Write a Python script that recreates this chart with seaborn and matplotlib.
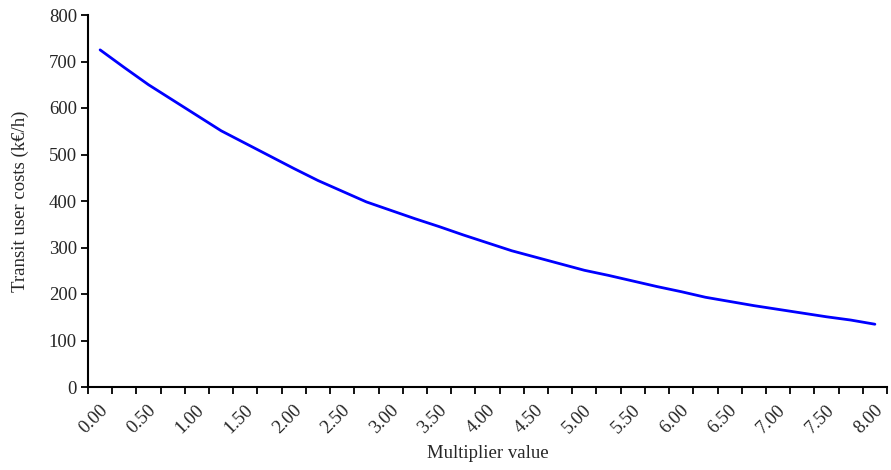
import numpy as np
import pandas as pd
import matplotlib
matplotlib.use("Agg")
import matplotlib.pyplot as plt
import matplotlib.transforms as mtransforms
import seaborn as sns
from matplotlib.ticker import FixedLocator

# multiplier values (0.25 steps) and transit user costs
multipliers = [0.00, 0.25, 0.50, 0.75, 1.00, 1.25, 1.50, 1.75, 2.00, 2.25, 2.50,
               2.75, 3.00, 3.25, 3.50, 3.75, 4.00, 4.25, 4.50, 4.75, 5.00, 5.25,
               5.50, 5.75, 6.00, 6.25, 6.50, 6.75, 7.00, 7.25, 7.50, 7.75, 8.00]
costs = [725, 687, 650, 617, 584, 551, 524, 497, 470, 444, 421,
         398, 380, 362, 345, 327, 310, 293, 279, 265, 251, 240,
         228, 216, 205, 193, 184, 175, 167, 159, 151, 144, 135]
tick_labels = ["%.2f" % v for v in multipliers[::2]]

df = pd.DataFrame({"multiplier": multipliers, "cost": costs})

sns.set_style("ticks")
plt.rcParams['font.family'] = ['Liberation Serif', 'DejaVu Serif']

fig = plt.figure(figsize=(8.91, 4.70), dpi=100)
ax = fig.add_axes([88 / 891, 83 / 470, 799 / 891, 372 / 470])

sns.lineplot(data=df, x="multiplier", y="cost", color="#0000ff", linewidth=2.0, ax=ax)

ax.set_xlim(-0.125, 8.125)
ax.set_ylim(0, 800)
ax.set_yticks(np.arange(0, 801, 100))

# labels at category centres, tick marks at category boundaries
ax.set_xticks(multipliers[::2])
ax.set_xticklabels(tick_labels, rotation=45, ha="right", va="center", rotation_mode="anchor")
ax.xaxis.set_minor_locator(FixedLocator(np.arange(-0.125, 8.2, 0.25)))
ax.tick_params(axis="x", which="major", length=0, pad=15, labelsize=13.5)
ax.tick_params(axis="x", which="minor", length=5, width=1.3, color="black")
ax.tick_params(axis="y", length=5, width=1.3, color="black", labelsize=13.5, pad=3)
shift = mtransforms.ScaledTranslation(5 / 100, 0, fig.dpi_scale_trans)
for lab in ax.get_xticklabels():
    lab.set_transform(lab.get_transform() + shift)

for s in ["top", "right"]:
    ax.spines[s].set_visible(False)
for s in ["left", "bottom"]:
    ax.spines[s].set_linewidth(1.5)
    ax.spines[s].set_color("black")

ax.set_xlabel("Multiplier value", fontsize=13.5, labelpad=6)
ax.set_ylabel("Transit user costs (k\u20ac/h)", fontsize=13.5, labelpad=14)

fig.savefig("out.png", dpi=100)
